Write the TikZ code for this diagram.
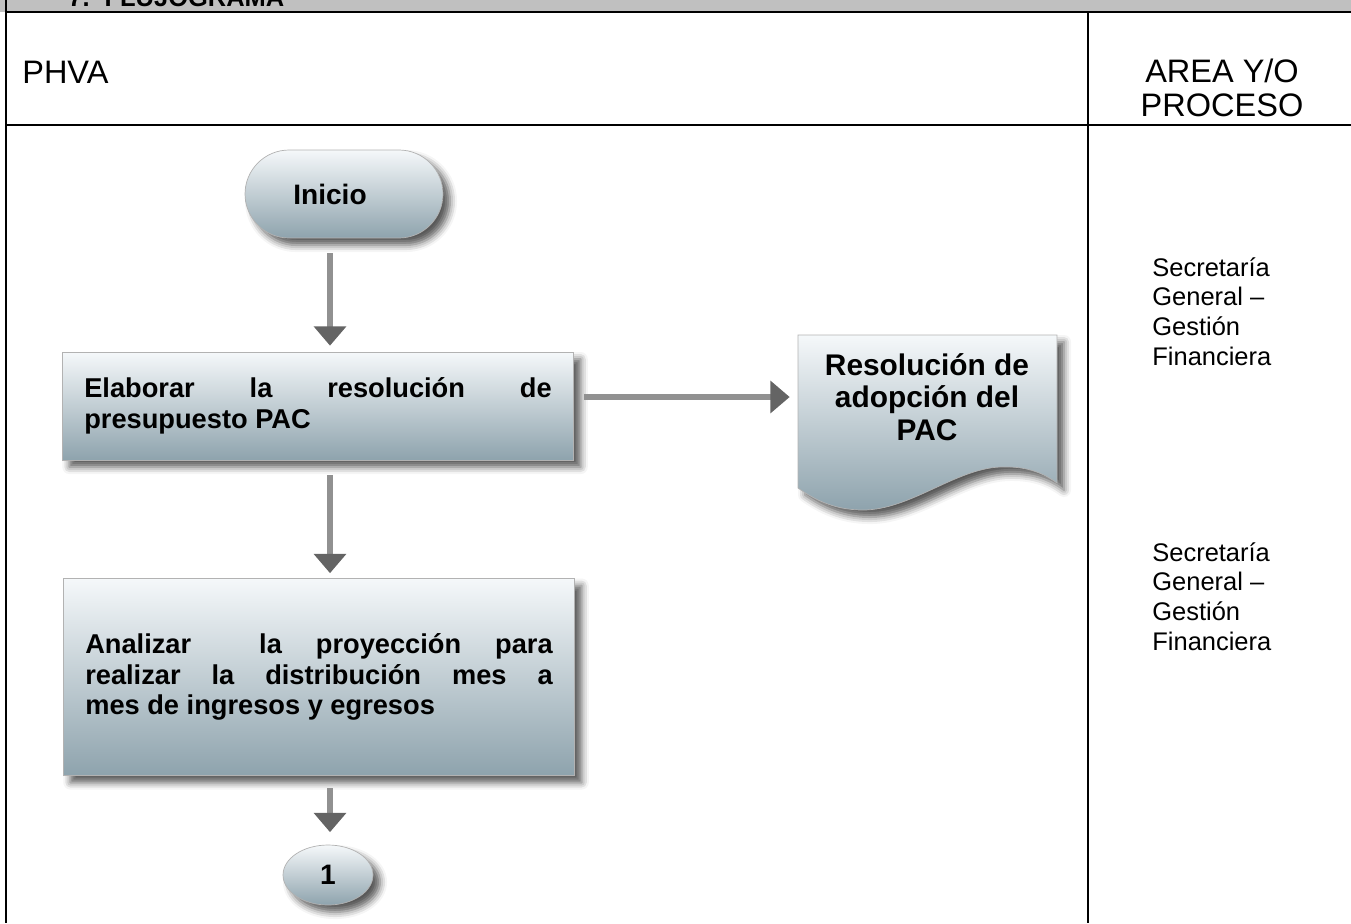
\documentclass[tikz,border=0pt]{standalone}
\usepackage{fontspec}
\setmainfont{Liberation Sans}
\usetikzlibrary{arrows.meta,shapes.misc,shapes.geometric,shadows.blur}

\definecolor{boxtop}{RGB}{245,248,250}
\definecolor{boxbot}{RGB}{142,163,173}
\definecolor{shaft}{RGB}{145,145,145}
\definecolor{headgray}{RGB}{100,100,100}
\definecolor{band}{RGB}{192,192,192}

\begin{document}
\begin{tikzpicture}[x=0.02cm, y=-0.02cm, every node/.style={inner sep=0pt},
	cell/.style={font=\fontsize{14.5}{17}\selectfont},
	head/.style={font=\fontsize{18.5}{19}\selectfont},
	bold/.style={font=\bfseries\fontsize{15.5}{17.5}\selectfont},
	shade/.style={draw=gray!60, thin, top color=boxtop, bottom color=boxbot,
		blur shadow={shadow xshift=4pt, shadow yshift=-4pt, shadow blur radius=4pt, shadow opacity=65}},
	stepbox/.style={shade, bold, rectangle, text width=9.35cm, inner xsep=0.44cm, align=justify},
	flow/.style={draw=shaft, line width=3.5pt, -{Triangle[width=18pt,length=11pt,color=headgray]}}]
	% \draw[gray, very thin] (0,0) grid[step=100] (1351,923);
	\useasboundingbox (0,0) rectangle (1351,923);
	\clip (0,0) rectangle (1351,923);

	% table frame
	\fill[band] (0,-30) rectangle (1351,12);
	\node[anchor=base west, font=\bfseries\fontsize{14.5}{17}\selectfont] (title) at (68,6) {7.\hspace{0.3cm}FLUJOGRAMA};
	\draw[line width=1.6pt] (6,-30) -- (6,923);
	\draw[line width=1.6pt] (6,12) -- (1351,12);
	\draw[line width=1.6pt] (6,125) -- (1351,125);
	\draw[line width=1.6pt] (1088,12) -- (1088,923);

	\node[head, anchor=west] (phva) at (22,72) {PHVA};
	\node[head, align=center] (area) at (1222,88) {AREA Y/O\\PROCESO};

	% flujograma
	\coordinate (axis) at (330,0);
	\node[shade, rounded rectangle, font=\bfseries\fontsize{16}{19}\selectfont,
		minimum width=3.96cm, minimum height=1.76cm] (inicio) at (344,194) {\hspace*{-0.56cm}Inicio};
	\node[stepbox, minimum height=2.16cm] (elab) at (318,406)
		{Elaborar la resolución de\linebreak presupuesto PAC};
	\node[stepbox, minimum height=3.94cm] (anal) at (319,677)
		{Analizar\ \ la proyección para\linebreak realizar la distribución mes a\linebreak mes de ingresos y egresos};
	\node[shade, ellipse, font=\bfseries\fontsize{16}{19}\selectfont,
		minimum width=1.8cm, minimum height=1.2cm] (uno) at (328,875) {1};

	\path[shade] (798,335) -- (1057,335) -- (1057,483)
		.. controls (1042,472) and (1025,466) .. (1000,467)
		.. controls (955,469) and (910,510) .. (863,510)
		.. controls (835,510) and (815,500) .. (798,488) -- cycle;
	\node[font=\bfseries\fontsize{17}{18.5}\selectfont, align=center,
		minimum width=5.18cm, minimum height=1.6cm] (doc) at (927,397)
		{Resolución de\\adopción del\\PAC};

	\draw[flow, shorten <=0.3cm, shorten >=0.12cm] (inicio.south -| axis) -- (elab.north -| axis);
	\draw[flow, shorten <=0.3cm, shorten >=0.1cm] (elab.south -| axis) -- (anal.north -| axis);
	\draw[flow, shorten <=0.25cm, shorten >=0.25cm] (anal.south -| axis) -- (uno.north -| axis);
	\draw[flow, shorten <=0.2cm, shorten >=0.15cm] (elab.east |- doc.west) -- (doc.west);

	\node[cell, anchor=north west, align=left] (area1) at (1152,257) {Secretaría\\General –\\Gestión\\Financiera};
	\node[cell, anchor=north west, align=left] (area2) at (1152,542) {Secretaría\\General –\\Gestión\\Financiera};
\end{tikzpicture}
\end{document}
